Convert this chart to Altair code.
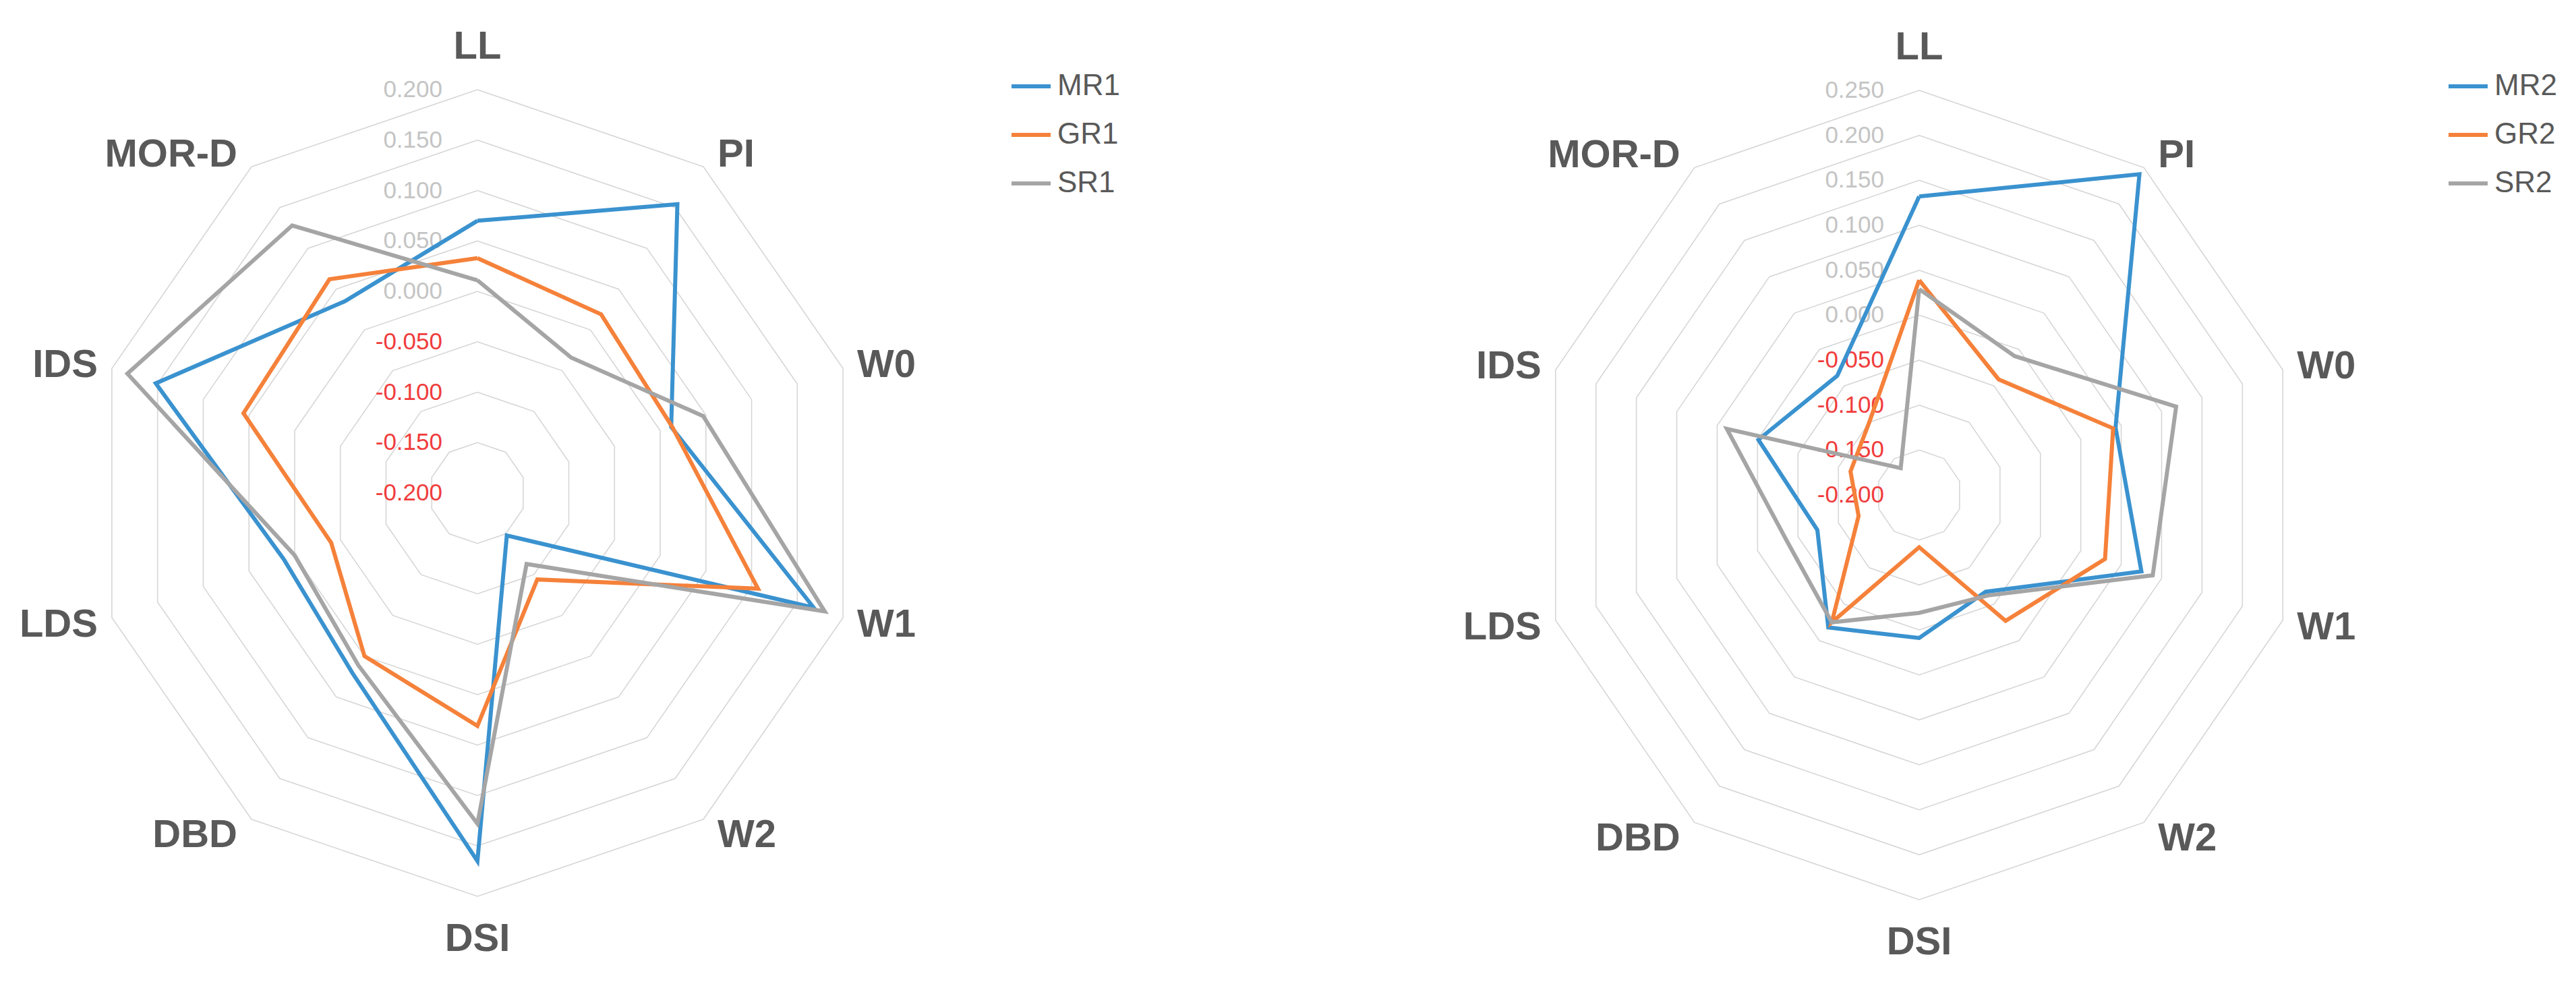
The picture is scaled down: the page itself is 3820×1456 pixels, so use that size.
import altair as alt
import pandas as pd
import numpy as np

categories = ["LL", "PI", "W0", "W1", "W2", "DSI", "DBD", "LDS", "IDS", "MOR-D"]

series_left = ["MR1", "GR1", "SR1"]
mr1 = [0.070, 0.154, 0.012, 0.168, -0.148, 0.165, 0.021, 0.012, 0.152, 0.035]
gr1 = [0.033, 0.019, 0.013, 0.107, -0.094, 0.031, 0.000, -0.040, 0.056, 0.062]
sr1 = [0.011, -0.034, 0.047, 0.180, -0.113, 0.128, 0.011, 0.000, 0.183, 0.128]

series_right = ["MR2", "GR2", "SR2"]
mr2 = [0.132, 0.241, 0.043, 0.075, -0.067, -0.041, -0.018, -0.074, -0.001, -0.036]
gr2 = [0.039, -0.041, 0.040, 0.030, -0.027, -0.142, -0.025, -0.125, -0.115, -0.100]
sr2 = [0.029, -0.009, 0.118, 0.089, -0.062, -0.069, -0.025, -0.036, 0.038, -0.163]

ticks_left = [-0.200, -0.150, -0.100, -0.050, 0.000, 0.050, 0.100, 0.150, 0.200]
ticks_right = [-0.200, -0.150, -0.100, -0.050, 0.000, 0.050, 0.100, 0.150, 0.200, 0.250]

line_colors = ["#3A92CF", "#F5813A", "#A5A5A5"]
GRID = "#D6D6D6"
TICK_POS = "#C4C4C4"
TICK_NEG = "#F03C3C"
LABEL = "#595959"
FONT = "Liberation Sans"

N = len(categories)
ANG = [2 * np.pi * i / N for i in range(N)]


def panel(names, values, ticks, cx, cy, rx, ry, x0, w, h, leg_x, leg_y):
    lo, hi = ticks[0], ticks[-1]

    def frac(v):
        return (v - lo) / (hi - lo)

    xs = alt.Scale(domain=[(x0 - cx) / rx, (x0 + w - cx) / rx], nice=False, zero=False)
    ys = alt.Scale(domain=[(cy - 8 - h) / ry, (cy - 8) / ry], nice=False, zero=False)
    X = lambda: alt.X("x:Q", scale=xs, axis=None)
    Y = lambda: alt.Y("y:Q", scale=ys, axis=None)

    # grid rings
    ring_rows = []
    for t in ticks[1:]:
        f = frac(t)
        for k in range(N + 1):
            a = ANG[k % N]
            ring_rows.append(dict(ring=f"{t:.3f}", order=k, x=f * np.sin(a), y=f * np.cos(a)))
    rings = alt.Chart(pd.DataFrame(ring_rows)).mark_line(color=GRID, strokeWidth=1.6).encode(
        x=X(), y=Y(), detail="ring:N", order="order:Q")

    # tick labels
    tick_rows = [dict(x=0.0, y=frac(t), label=f"{t:.3f}", neg=bool(t < 0)) for t in ticks]
    tdf = pd.DataFrame(tick_rows)
    tpos = alt.Chart(tdf[~tdf.neg]).mark_text(
        align="right", baseline="middle", dx=-52, font=FONT, fontSize=35, color=TICK_POS
    ).encode(x=X(), y=Y(), text="label:N")
    tneg = alt.Chart(tdf[tdf.neg]).mark_text(
        align="right", baseline="middle", dx=-52, font=FONT, fontSize=35, color=TICK_NEG
    ).encode(x=X(), y=Y(), text="label:N")

    # series lines
    legend = alt.Legend(
        title=None, orient="none", legendX=leg_x, legendY=leg_y, symbolType="stroke",
        symbolStrokeWidth=6, symbolSize=3364, labelFontSize=44, labelFont=FONT,
        labelColor=LABEL, rowPadding=18, padding=0, labelOffset=7,
    )
    cscale = alt.Scale(domain=names, range=line_colors)
    line_layers = []
    for name, vals in zip(names, values):
        rows = []
        for k in range(N + 1):
            i = k % N
            f = frac(vals[i])
            rows.append(dict(series=name, order=k, x=f * np.sin(ANG[i]), y=f * np.cos(ANG[i])))
        line_layers.append(
            alt.Chart(pd.DataFrame(rows)).mark_line(strokeWidth=6, strokeJoin="miter").encode(
                x=X(), y=Y(), order="order:Q",
                color=alt.Color("series:N", scale=cscale, legend=legend),
            )
        )

    # category labels
    lab_rows = []
    for i, c in enumerate(categories):
        s, co = np.sin(ANG[i]), np.cos(ANG[i])
        if i == 0:
            dxp, dyp, al = 0.0, -63.0, "center"
        elif i == N // 2:
            dxp, dyp, al = 0.0, 64.0, "center"
        else:
            dxp = 21.0 * np.sign(s)
            dyp = -co * 26.0 + 3.5
            al = "left" if s > 0 else "right"
        lab_rows.append(dict(x=s + dxp / rx, y=co - dyp / ry, label=c, al=al))
    ldf = pd.DataFrame(lab_rows)
    lab_layers = []
    for al in ["center", "left", "right"]:
        lab_layers.append(
            alt.Chart(ldf[ldf.al == al]).mark_text(
                align=al, baseline="middle", font=FONT, fontSize=58, fontWeight="bold", color=LABEL
            ).encode(x=X(), y=Y(), text="label:N")
        )

    return alt.layer(rings, tpos, tneg, *line_layers, *lab_layers).properties(width=w, height=h)


left = panel(series_left, [mr1, gr1, sr1], ticks_left,
             cx=708, cy=731, rx=570, ry=598, x0=8, w=1900, h=1440, leg_x=1489, leg_y=88)
right = panel(series_right, [mr2, gr2, sr2], ticks_right,
              cx=2846, cy=734, rx=567, ry=600, x0=1908, w=1900, h=1440, leg_x=1720, leg_y=88)

chart = alt.hconcat(left, right, spacing=0).resolve_scale(
    x="independent", y="independent", color="independent"
).configure_view(stroke=None).properties(padding=0)

chart.save("out.html", embed_options={"renderer": "svg", "actions": False})
